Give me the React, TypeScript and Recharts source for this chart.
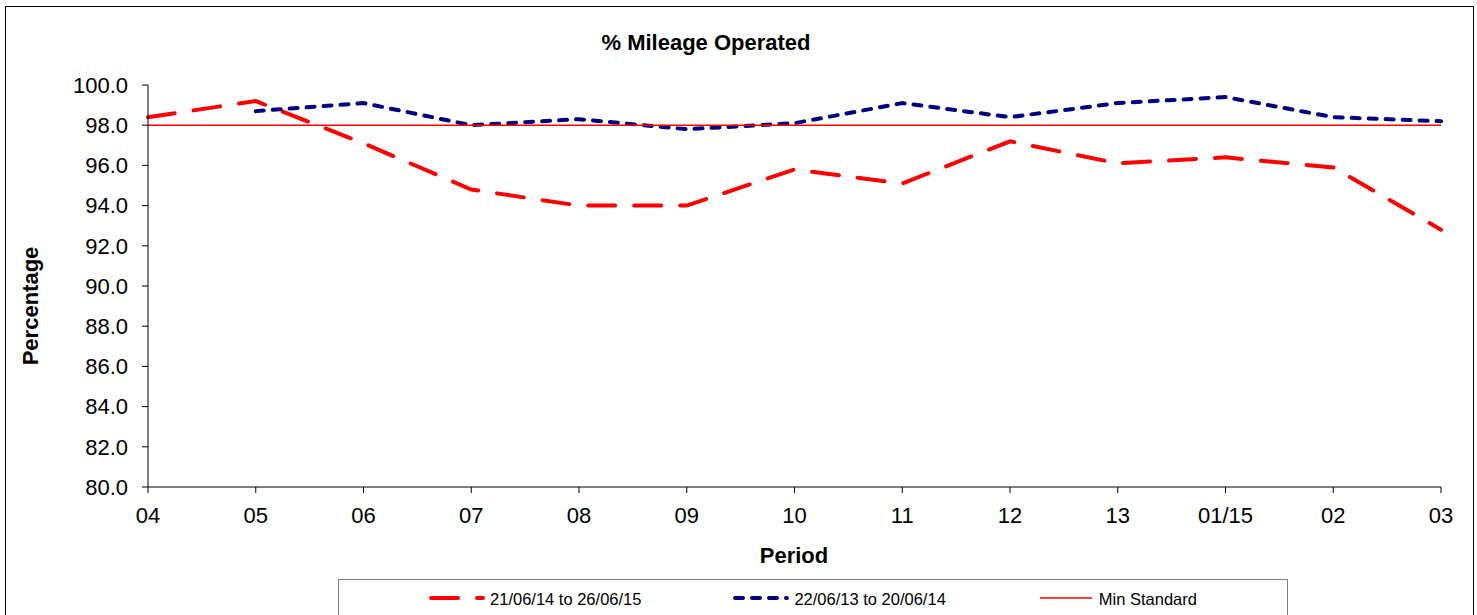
import React from 'react';
import { LineChart, Line, XAxis, YAxis } from 'recharts';

const periods = ['04', '05', '06', '07', '08', '09', '10', '11', '12', '13', '01/15', '02', '03'];
const current = [98.4, 99.2, 97.1, 94.8, 94.0, 94.0, 95.8, 95.1, 97.2, 96.1, 96.4, 95.9, 92.8];
const previous = [null, 98.7, 99.1, 98.0, 98.3, 97.8, 98.1, 99.1, 98.4, 99.1, 99.4, 98.4, 98.2];
const minStandard = [98.0, 98.0, 98.0, 98.0, 98.0, 98.0, 98.0, 98.0, 98.0, 98.0, 98.0, 98.0, 98.0];
const yTicks = [80, 82, 84, 86, 88, 90, 92, 94, 96, 98, 100];

const seriesNames = ['21/06/14 to 26/06/15', '22/06/13 to 20/06/14', 'Min Standard'];
const title = '% Mileage Operated';
const xTitle = 'Period';
const yTitle = 'Percentage';

const data = periods.map((p, i) => ({
  period: p,
  current: current[i],
  previous: previous[i],
  min: minStandard[i],
}));

const FONT = '"Liberation Sans", Arial, sans-serif';

const legendStyles = [
  { color: '#ff0000', width: 4, dash: '27 19', cap: 'round' as const },
  { color: '#000080', width: 4, dash: '8 9', cap: 'round' as const },
  { color: '#ff0000', width: 1.5, dash: undefined, cap: 'butt' as const },
];

export default function App() {
  return (
    <div
      style={{
        position: 'absolute',
        left: 0,
        top: 0,
        width: 1477,
        height: 615,
        overflow: 'hidden',
        background: '#fff',
        fontFamily: FONT,
      }}
    >
      <div
        style={{
          position: 'absolute',
          left: 5,
          top: 6,
          width: 1469,
          height: 700,
          border: '1px solid #000',
          boxSizing: 'border-box',
        }}
      />
      <div style={{ position: 'absolute', left: 0, top: 0 }}>
        <LineChart
          width={1477}
          height={615}
          data={data}
          margin={{ top: 85, right: 36, bottom: 98, left: 0 }}
        >
          <XAxis
            dataKey="period"
            interval={0}
            tickSize={6}
            tickMargin={14}
            height={30}
            stroke="#000"
            tick={{ fill: '#000', fontSize: 22, fontFamily: FONT }}
          />
          <YAxis
            width={148}
            domain={[80, 100]}
            ticks={yTicks}
            tickSize={6}
            tickMargin={14}
            stroke="#000"
            tickFormatter={(v: number) => v.toFixed(1)}
            tick={{ fill: '#000', fontSize: 22, fontFamily: FONT }}
          />
          <Line
            dataKey="current"
            name={seriesNames[0]}
            stroke="#ff0000"
            strokeWidth={4}
            strokeDasharray="27 19"
            strokeLinecap="round"
            dot={false}
            activeDot={false}
            type="linear"
            isAnimationActive={false}
          />
          <Line
            dataKey="previous"
            name={seriesNames[1]}
            stroke="#000080"
            strokeWidth={4}
            strokeDasharray="8 9"
            strokeLinecap="round"
            dot={false}
            activeDot={false}
            type="linear"
            isAnimationActive={false}
          />
          <Line
            dataKey="min"
            name={seriesNames[2]}
            stroke="#ff0000"
            strokeWidth={1.5}
            dot={false}
            activeDot={false}
            type="linear"
            isAnimationActive={false}
          />
        </LineChart>
      </div>
      <svg
        width={1477}
        height={615}
        style={{ position: 'absolute', left: 0, top: 0, pointerEvents: 'none' }}
      >
        <text x={706} y={50} textAnchor="middle" fontSize={22} fontWeight="bold" fontFamily={FONT} fill="#000">
          {title}
        </text>
        <text x={794} y={563} textAnchor="middle" fontSize={22} fontWeight="bold" fontFamily={FONT} fill="#000">
          {xTitle}
        </text>
        <text
          x={38}
          y={306}
          textAnchor="middle"
          fontSize={22}
          fontWeight="bold"
          fontFamily={FONT}
          fill="#000"
          transform="rotate(-90 38 306)"
        >
          {yTitle}
        </text>
      </svg>
      <div
        style={{
          position: 'absolute',
          left: 338,
          top: 579,
          width: 950,
          height: 80,
          border: '1px solid #808080',
          boxSizing: 'border-box',
          paddingTop: 9,
          display: 'flex',
          justifyContent: 'center',
          alignItems: 'flex-start',
          gap: 92,
        }}
      >
        {seriesNames.map((name, i) => {
          const s = legendStyles[i];
          return (
            <div key={name} style={{ display: 'flex', alignItems: 'center', height: 20 }}>
              <svg width={56} height={20} style={{ marginRight: 5 }}>
                <line
                  x1={2}
                  x2={54}
                  y1={9}
                  y2={9}
                  stroke={s.color}
                  strokeWidth={s.width}
                  strokeDasharray={s.dash}
                  strokeLinecap={s.cap}
                />
              </svg>
              <span style={{ fontSize: 16.5, lineHeight: '20px', color: '#000', whiteSpace: 'nowrap' }}>{name}</span>
            </div>
          );
        })}
      </div>
    </div>
  );
}
